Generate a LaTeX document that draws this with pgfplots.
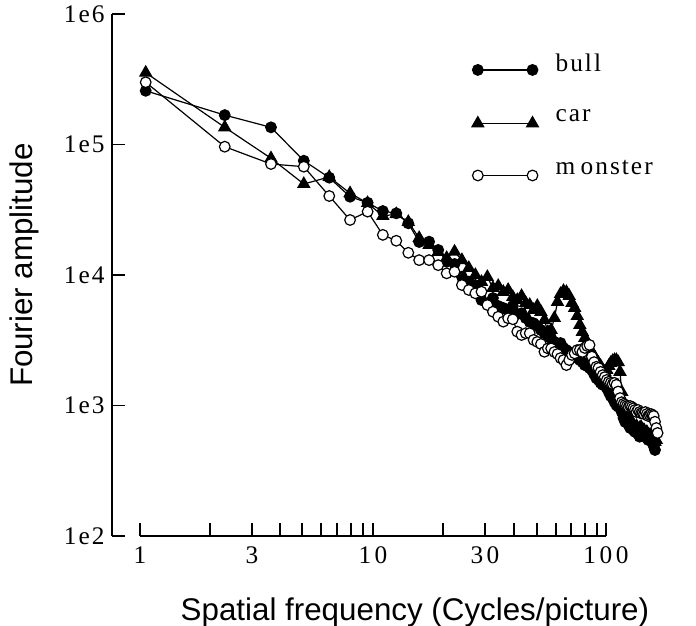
\documentclass[border=0pt]{standalone}
\usepackage{fontspec}
\setmainfont{Liberation Serif}
\newfontfamily\tickfont{Liberation Serif}[LetterSpace=8]
\newfontfamily\xtickfont{Liberation Serif}[LetterSpace=14]
\newfontfamily\labelfont{Liberation Sans}
\usepackage{pgfplots}
\usepackage{pgfplotstable}
\pgfplotsset{compat=1.18}

\pgfplotstableread{
f A
1 2.58e5
2 1.68e5
3 1.354e5
4 7.51e4
5 5.57e4
6 3.98e4
7 3.58e4
8 3.09e4
9 2.97e4
10 2.49e4
11 1.79e4
12 1.80e4
13 1.555e4
14 1.264e4
15 1.214e4
16 9.70e3
17 8.89e3
18 8.38e3
19 6.43e3
20 6.07e3
21 6.66e3
22 5.79e3
23 5.59e3
24 5.39e3
25 5.79e3
26 5.02e3
27 5.09e3
28 4.68e3
29 4.36e3
30 4.27e3
31 4.07e3
32 3.79e3
33 3.58e3
34 3.37e3
35 3.29e3
36 3.07e3
37 2.91e3
38 3.01e3
39 2.76e3
40 2.66e3
41 2.57e3
42 2.48e3
43 2.39e3
44 2.31e3
45 2.23e3
46 2.15e3
47 2.04e3
48 2.01e3
49 1.94e3
50 1.87e3
51 1.74e3
52 1.62e3
53 1.57e3
54 1.49e3
55 1.44e3
56 1.51e3
57 1.36e3
58 1.27e3
59 1.183e3
60 1.141e3
61 1.064e3
62 1.009e3
63 979
64 1040
65 891
66 802
67 747
68 774
69 709
70 672
71 697
72 649
73 627
74 672
75 605
76 577
77 616
78 649
79 594
80 627
81 564
82 544
83 584
84 544
85 525
86 489
87 456
}\bull

\pgfplotstableread{
f A
1 3.55e5
2 1.354e5
3 7.84e4
4 4.98e4
5 5.64e4
6 4.23e4
7 3.56e4
8 2.83e4
9 2.93e4
10 2.55e4
11 1.92e4
12 1.70e4
13 1.50e4
14 1.35e4
15 1.51e4
16 1.30e4
17 1.131e4
18 1.00e4
19 8.84e3
20 9.65e3
21 7.95e3
22 8.24e3
23 7.41e3
24 7.68e3
25 6.78e3
26 6.43e3
27 6.90e3
28 6.10e3
29 5.89e3
30 5.39e3
31 5.79e3
32 5.21e3
33 4.52e3
34 3.66e3
35 3.79e3
36 4.68e3
37 6.21e3
38 7.15e3
39 7.54e3
40 7.41e3
41 6.90e3
42 6.10e3
43 5.59e3
44 4.85e3
45 4.14e3
46 3.66e3
47 3.29e3
48 3.07e3
49 2.76e3
50 2.57e3
51 2.39e3
52 2.23e3
53 2.12e3
54 2.01e3
55 1.87e3
56 1.81e3
57 1.87e3
58 2.01e3
59 2.12e3
60 2.19e3
61 2.23e3
62 2.23e3
63 2.15e3
64 1.81e3
65 1.269e3
66 1.064e3
67 957
68 891
69 831
70 774
71 747
72 709
73 672
74 697
75 649
76 672
77 684
78 627
79 649
80 594
81 627
82 584
83 564
84 594
85 544
86 564
87 525
88 544
}\car

\pgfplotstableread{
f A
1 3.00e5
2 9.62e4
3 7.09e4
4 6.76e4
5 4.03e4
6 2.64e4
7 3.06e4
8 2.03e4
9 1.83e4
10 1.48e4
11 1.30e4
12 1.30e4
13 1.19e4
14 1.03e4
15 1.06e4
16 8.38e3
17 7.68e3
18 7.24e3
19 7.45e3
20 5.89e3
21 5.23e3
22 4.79e3
23 4.39e3
24 4.66e3
25 4.58e3
26 3.68e3
27 3.47e3
28 3.58e3
29 3.58e3
30 3.18e3
31 3.07e3
32 2.96e3
33 2.58e3
34 2.74e3
35 2.74e3
36 2.57e3
37 2.48e3
38 2.31e3
39 2.23e3
40 2.04e3
41 2.23e3
42 2.44e3
43 2.51e3
44 2.66e3
45 2.66e3
46 2.57e3
47 2.76e3
48 2.86e3
49 2.91e3
50 2.37e3
51 2.15e3
52 1.98e3
53 1.94e3
54 1.81e3
55 1.71e3
56 1.65e3
57 1.57e3
58 1.52e3
59 1.49e3
60 1.46e3
61 1.49e3
62 1.44e3
63 1.28e3
64 1.14e3
65 1.06e3
66 1.03e3
67 1.01e3
68 991
69 974
70 991
71 974
72 952
73 924
74 891
75 924
76 891
77 871
78 876
79 861
80 891
81 861
82 831
83 846
84 861
85 846
86 831
87 751
88 672
89 616
}\monster

\begin{document}
\begin{tikzpicture}
\begin{axis}[
  at={(0pt,0pt)}, anchor=south west,
  scale only axis,
  width=349.5pt, height=391.5pt,
  xmode=log, ymode=log,
  xmin=0.9512, xmax=56.61,
  ymin=100, ymax=1e6,
  clip=false,
  axis x line*=bottom,
  axis y line*=left,
  axis y line shift=21pt,
  axis line style={line width=1pt, black},
  every tick/.style={line width=1pt, black},
  major tick length=9.75pt,
  xminorticks=false, yminorticks=false,
  xtick={0.9512,1.758,2.540,3.246,3.937,4.651,5.352,6.050,6.722,7.337,13.56,19.59,25.28,30.92,36.52,41.65,47.10,52.31,56.61},
  xticklabels={1,,3,,,,,,,10,,30,,,,,,,100},
  ytick={100,1000,10000,100000,1000000},
  yticklabels={1e2,1e3,1e4,1e5,1e6},
  yticklabel style={font=\tickfont\fontsize{19}{22}\selectfont, xshift=-2pt},
  xticklabel style={font=\xtickfont\fontsize{19}{22}\selectfont, yshift=-4.5pt},
  xlabel={Spatial frequency (Cycles/picture)},
  ylabel={Fourier amplitude},
  label style={font=\labelfont\fontsize{23.5}{27}\selectfont},
  xlabel style={at={(rel axis cs:0.59,-0.146)}, anchor=center},
  ylabel style={at={(rel axis cs:-0.249,0.519)}, anchor=center, rotate=0},
  legend style={draw=none, fill=none, at={(rel axis cs:0.712,0.93)}, anchor=north west,
    font=\tickfont\fontsize{19}{22}\selectfont, row sep=23.5pt, inner sep=0pt},
  legend cell align=left,
  legend image code/.code={\draw[#1, yshift=-5pt] plot coordinates {(0pt,0pt) (41pt,0pt)};},
]
\addplot[black, line width=0.9pt, mark=*, mark size=4pt, mark options={solid, fill=black}] table[x=f,y=A]{\bull};
\addlegendentry{\hspace{11pt}bull}
\addplot[black, line width=0.9pt, mark=triangle*, mark size=5pt, mark options={solid, fill=black}] table[x=f,y=A]{\car};
\addlegendentry{\hspace{11pt}car}
\addplot[black, line width=0.9pt, mark=*, mark size=4pt, mark options={solid, fill=white}] table[x=f,y=A]{\monster};
\addlegendentry{\hspace{11pt}m\kern4pt onster}
\end{axis}
\pgfresetboundingbox
\path[use as bounding box] (-105pt,-66.75pt) rectangle (417pt,402pt);
\end{tikzpicture}
\end{document}
